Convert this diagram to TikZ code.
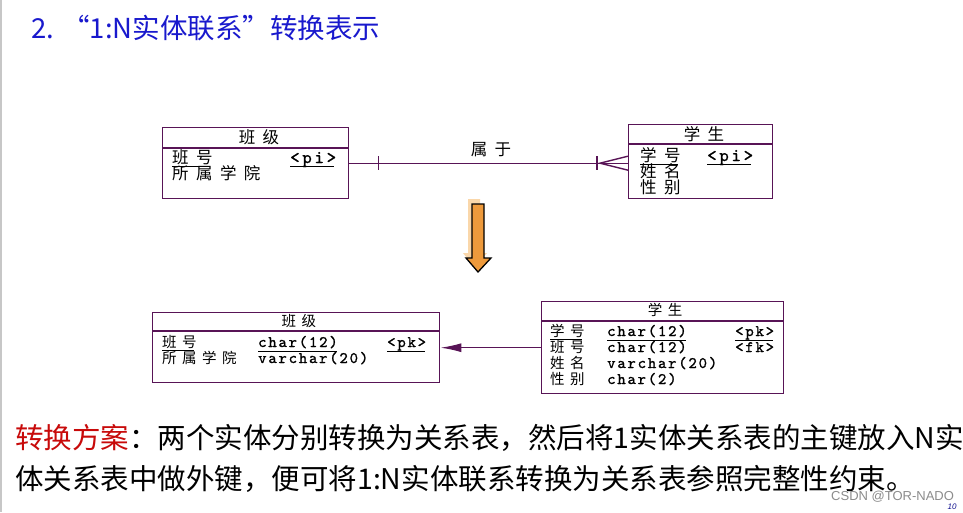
\documentclass[tikz,border=0pt]{standalone}
\usepackage{fontspec}
\setmainfont{Noto Sans CJK SC}
\newfontfamily\latinsf{Liberation Sans}
\newfontfamily\lmmono[Extension=.otf]{lmmono10-regular}
\usetikzlibrary{arrows.meta,calc}
\definecolor{boxc}{RGB}{88,20,86}
\definecolor{ttlblue}{RGB}{25,25,205}
\definecolor{redc}{RGB}{200,10,10}
\definecolor{orangef}{RGB}{238,154,60}
\definecolor{shadowf}{RGB}{250,215,170}
\newcommand{\cjkA}{\fontsize{16.5}{16.5}\selectfont\addfontfeatures{LetterSpace=45}}
\newcommand{\ttA}{\lmmono\fontsize{18}{18}\selectfont\addfontfeatures{LetterSpace=15,FakeBold=1.2}}
\newcommand{\cjkB}{\fontsize{14.5}{14.5}\selectfont\addfontfeatures{LetterSpace=38}}
\newcommand{\ttB}{\lmmono\fontsize{16}{16}\selectfont\addfontfeatures{LetterSpace=11,FakeBold=1.2}}
\tikzset{
  entity/.style={draw=boxc, line width=1.4pt, inner sep=0pt, anchor=north west},
  txt/.style={inner sep=0pt, anchor=base west},
  hdr/.style={inner sep=0pt, anchor=center},
  conn/.style={draw=boxc, line width=1.4pt},
  ul/.style={draw=black, line width=1pt},
}
\begin{document}
\begin{tikzpicture}[x=1pt,y=-1pt]
\useasboundingbox[fill=white] (0,0) rectangle (963,512);
\draw[black!22, line width=1.5pt] (1,0) -- (1,512);

% title
\node[anchor=west, inner sep=0pt, text=ttlblue, font=\fontsize{27.5}{27.5}\selectfont] (title) at (31,28) {2. “1:N实体联系”转换表示};

% ---------- upper ER diagram ----------
\node[entity, minimum width=186pt, minimum height=71pt] (cls) at (162,127) {};
\draw[conn] ($(cls.north west)+(0,21)$) -- ($(cls.north east)+(0,21)$);
\node[hdr] (clsh) at (259,137) {\cjkA 班级};
\node[txt] (c1) at (172,163) {\cjkA 班号};
\draw[ul] ($(c1.base west)+(0,3)$) -- ($(c1.base east)+(-3,3)$);
\node[txt] (c1k) at (290,163) {\ttA <pi>};
\draw[ul] ($(c1k.base west)+(0,3)$) -- ($(c1k.base east)+(-2,3)$);
\node[txt] (c2) at (172,179) {\cjkA 所属学院};

\node[entity, minimum width=144pt, minimum height=74pt] (stu) at (628,124) {};
\draw[conn] ($(stu.north west)+(0,20)$) -- ($(stu.north east)+(0,20)$);
\node[hdr] (stuh) at (704,134) {\cjkA 学生};
\node[txt] (s1) at (640,161) {\cjkA 学号};
\draw[ul] ($(s1.base west)+(0,3)$) -- ($(s1.base east)+(-3,3)$);
\node[txt] (s1k) at (707,161) {\ttA <pi>};
\draw[ul] ($(s1k.base west)+(0,3)$) -- ($(s1k.base east)+(-2,3)$);
\node[txt] (s2) at (640,177) {\cjkA 姓名};
\node[txt] (s3) at (640,193) {\cjkA 性别};

\coordinate (rend) at (cls.east -| stu.west);
\draw[conn] (cls.east) -- (rend);
\coordinate (t1) at ($(cls.east)+(29,0)$);
\draw[conn] ($(t1)+(0,-7)$) -- ($(t1)+(0,7)$);
\coordinate (t2) at ($(rend)+(-31,0)$);
\draw[conn] ($(t2)+(0,-7)$) -- ($(t2)+(0,7)$);
\coordinate (fork) at ($(rend)+(-28,0)$);
\draw[conn] ($(rend)+(0,-7)$) -- (fork) -- ($(rend)+(0,7)$);
\node[hdr] (rel) at (491,150) {\cjkA 属于};

% ---------- orange arrow ----------
\fill[shadowf] (468,199) -- (480,199) -- (480,253) -- (487,253) -- (474,267) -- (463,253) -- (468,253) -- cycle;
\draw[fill=orangef, draw=black, line width=1.3pt, line join=miter]
  (472,204) -- (484,204) -- (484,258) -- (491,258) -- (478,272) -- (466,258) -- (472,258) -- cycle;

% ---------- lower relational tables ----------
\node[entity, minimum width=287pt, minimum height=70pt] (cls2) at (152,312) {};
\draw[conn] ($(cls2.north west)+(0,19)$) -- ($(cls2.north east)+(0,19)$);
\node[hdr] (cls2h) at (299,321) {\cjkB 班级};
\node[txt] (d1) at (162,347) {\cjkB 班号};
\draw[ul] ($(d1.base west)+(0,3)$) -- ($(d1.base east)+(-3,3)$);
\node[txt] (d1t) at (258,347) {\ttB char(12)};
\draw[ul] ($(d1t.base west)+(0,4)$) -- ($(d1t.base east)+(-1,4)$);
\node[txt] (d1k) at (387,347) {\ttB <pk>};
\draw[ul] ($(d1k.base west)+(0,4)$) -- ($(d1k.base east)+(-1,4)$);
\node[txt] (d2) at (162,363) {\cjkB 所属学院};
\node[txt] (d2t) at (258,363) {\ttB varchar(20)};

\node[entity, minimum width=242pt, minimum height=92pt] (stu2) at (541,301) {};
\draw[conn] ($(stu2.north west)+(0,20)$) -- ($(stu2.north east)+(0,20)$);
\node[hdr] (stu2h) at (665,310) {\cjkB 学生};
\node[txt] (e1) at (550,336) {\cjkB 学号};
\draw[ul] ($(e1.base west)+(0,3)$) -- ($(e1.base east)+(-3,3)$);
\node[txt] (e1t) at (607,336) {\ttB char(12)};
\draw[ul] ($(e1t.base west)+(0,4)$) -- ($(e1t.base east)+(-1,4)$);
\node[txt] (e1k) at (735,336) {\ttB <pk>};
\draw[ul] ($(e1k.base west)+(0,4)$) -- ($(e1k.base east)+(-1,4)$);
\node[txt] (e2) at (550,352) {\cjkB 班号};
\node[txt] (e2t) at (607,352) {\ttB char(12)};
\node[txt] (e2k) at (735,352) {\ttB <fk>};
\node[txt] (e3) at (550,368) {\cjkB 姓名};
\node[txt] (e3t) at (607,368) {\ttB varchar(20)};
\node[txt] (e4) at (550,384) {\cjkB 性别};
\node[txt] (e4t) at (607,384) {\ttB char(2)};

\draw[conn, -{Latex[length=21pt,width=9pt]}] (stu2.west) -- (stu2.west -| cls2.east);

% ---------- bottom text ----------
\node[txt, font=\fontsize{28.5}{28.5}\selectfont] (l1) at (15,448) {\textcolor{redc}{转换方案}：两个实体分别转换为关系表，然后将1实体关系表的主键放入N实};
\node[txt, font=\fontsize{28.5}{28.5}\selectfont] (l2) at (15,489) {体关系表中做外键，便可将1:N实体联系转换为关系表参照完整性约束。};

\node[anchor=west, inner sep=0pt, text=black!45, font=\latinsf\fontsize{13}{13}\selectfont] (wm) at (831,497) {CSDN @TOR-NADO};
\node[hdr, text=ttlblue!70!black, font=\latinsf\itshape\fontsize{8}{8}\selectfont] (pg) at (952,507) {10};
\end{tikzpicture}
\end{document}
